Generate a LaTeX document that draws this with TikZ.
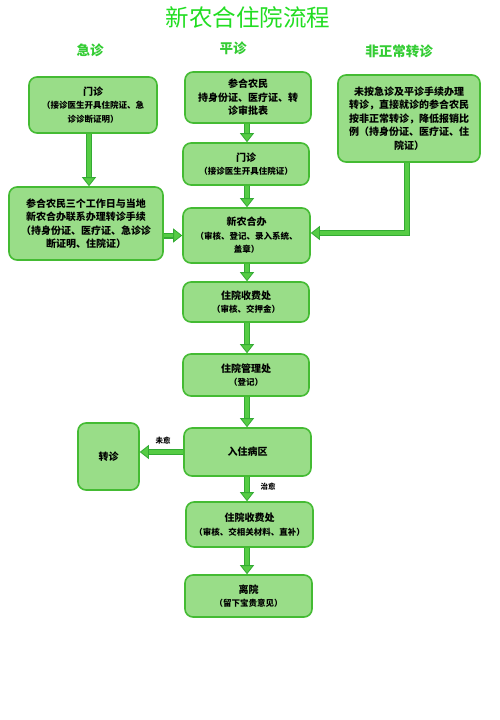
\documentclass[tikz,border=0pt]{standalone}
\usepackage{fontspec}
\newfontfamily\cjk{Noto Sans CJK SC}
\usetikzlibrary{arrows.meta}
\definecolor{boxfill}{HTML}{99DD88}
\definecolor{boxline}{HTML}{44BB33}
\definecolor{arrfill}{HTML}{55CC44}
\definecolor{arrline}{HTML}{33AA33}
\definecolor{titlegreen}{HTML}{22DD22}
\definecolor{headgreen}{HTML}{33CC33}
\newcommand\smalltxt[1]{{\fontsize{8.5}{12.5}\selectfont #1}}
\begin{document}
\begin{tikzpicture}[x=1pt,y=-1pt,
  box/.style={draw=boxline, fill=boxfill, line width=1.6pt, rounded corners=8pt,
    align=center, inner sep=2pt, text=black,
    font=\cjk\bfseries\fontsize{10}{13.5}\selectfont},
  head/.style={text=headgreen, font=\cjk\bfseries\fontsize{13.5}{14}\selectfont},
  lbl/.style={text=black, font=\cjk\bfseries\fontsize{7.5}{8}\selectfont},
  arr/.style={draw=arrline, line width=6pt, line join=miter,
    -{Triangle[width=14pt,length=9pt,line width=0.8pt,fill=arrfill]},
    postaction={draw=arrfill, line width=3.4pt, shorten >=9pt, -{}}}
]
\useasboundingbox (0,0) rectangle (500,720);

\node[text=titlegreen, font=\cjk\fontsize{23.5}{24}\selectfont] (title) at (248,17) {新农合住院流程};
\node[head] (h1) at (90,50) {急诊};
\node[head] (h2) at (233,48) {平诊};
\node[head] (h3) at (399,51) {非正常转诊};

\node[box, minimum width=128pt, minimum height=56pt] (A) at (93,105)
  {门诊\\\smalltxt{（接诊医生开具住院证、急}\\\smalltxt{诊诊断证明）}};
\node[box, minimum width=126pt, minimum height=51pt] (B) at (248,97.5)
  {参合农民\\持身份证、医疗证、转\\诊审批表};
\node[box, minimum width=142pt, minimum height=87pt] (C) at (409,118.5)
  {未按急诊及平诊手续办理\\转诊，直接就诊的参合农民\\按非正常转诊，降低报销比\\例（持身份证、医疗证、住\\院证）};
\node[box, minimum width=126pt, minimum height=42pt] (D) at (246,164)
  {门诊\\\smalltxt{（接诊医生开具住院证）}};
\node[box, minimum width=154pt, minimum height=73pt] (E) at (86,223.5)
  {参合农民三个工作日与当地\\新农合办联系办理转诊手续\\（持身份证、医疗证、急诊诊\\断证明、住院证）};
\node[box, minimum width=127pt, minimum height=55pt] (F) at (246.5,235.5)
  {新农合办\\\smalltxt{（审核、登记、录入系统、}\\\smalltxt{盖章）}};
\node[box, minimum width=126pt, minimum height=40pt] (G) at (246,302)
  {住院收费处\\\smalltxt{（审核、交押金）}};
\node[box, minimum width=126pt, minimum height=42pt] (H) at (246,375)
  {住院管理处\\\smalltxt{（登记）}};
\node[box, minimum width=127pt, minimum height=48pt] (I) at (247.5,452)
  {入住病区};
\node[box, minimum width=61pt, minimum height=67pt] (J) at (108.5,456.5)
  {转诊};
\node[box, minimum width=127pt, minimum height=45pt] (K) at (249.5,524.5)
  {住院收费处\\\smalltxt{（审核、交相关材料、直补）}};
\node[box, minimum width=127pt, minimum height=42pt] (L) at (248.5,596)
  {离院\\\smalltxt{（留下宝贵意见）}};

\coordinate (cA) at (89,0);
\coordinate (cM) at (247,0);
\coordinate (cC) at (407,0);
\coordinate (cCturn) at (407,233);

\draw[arr] (cA |- A.south) -- (cA |- E.north);
\draw[arr] (E.east |- F.west) -- (F.west);
\draw[arr] (cC |- C.south) -- (cCturn) -- (F.east |- cCturn);
\draw[arr] (cM |- B.south) -- (cM |- D.north);
\draw[arr] (cM |- D.south) -- (cM |- F.north);
\draw[arr] (cM |- F.south) -- (cM |- G.north);
\draw[arr] (cM |- G.south) -- (cM |- H.north);
\draw[arr] (cM |- H.south) -- (cM |- I.north);
\draw[arr] (I.west) -- (J.east |- I.west);
\draw[arr] (cM |- I.south) -- (cM |- K.north);
\draw[arr] (cM |- K.south) -- (cM |- L.north);

\node[lbl] (l1) at (163,441) {未愈};
\node[lbl] (l2) at (268,487) {治愈};
\end{tikzpicture}
\end{document}
